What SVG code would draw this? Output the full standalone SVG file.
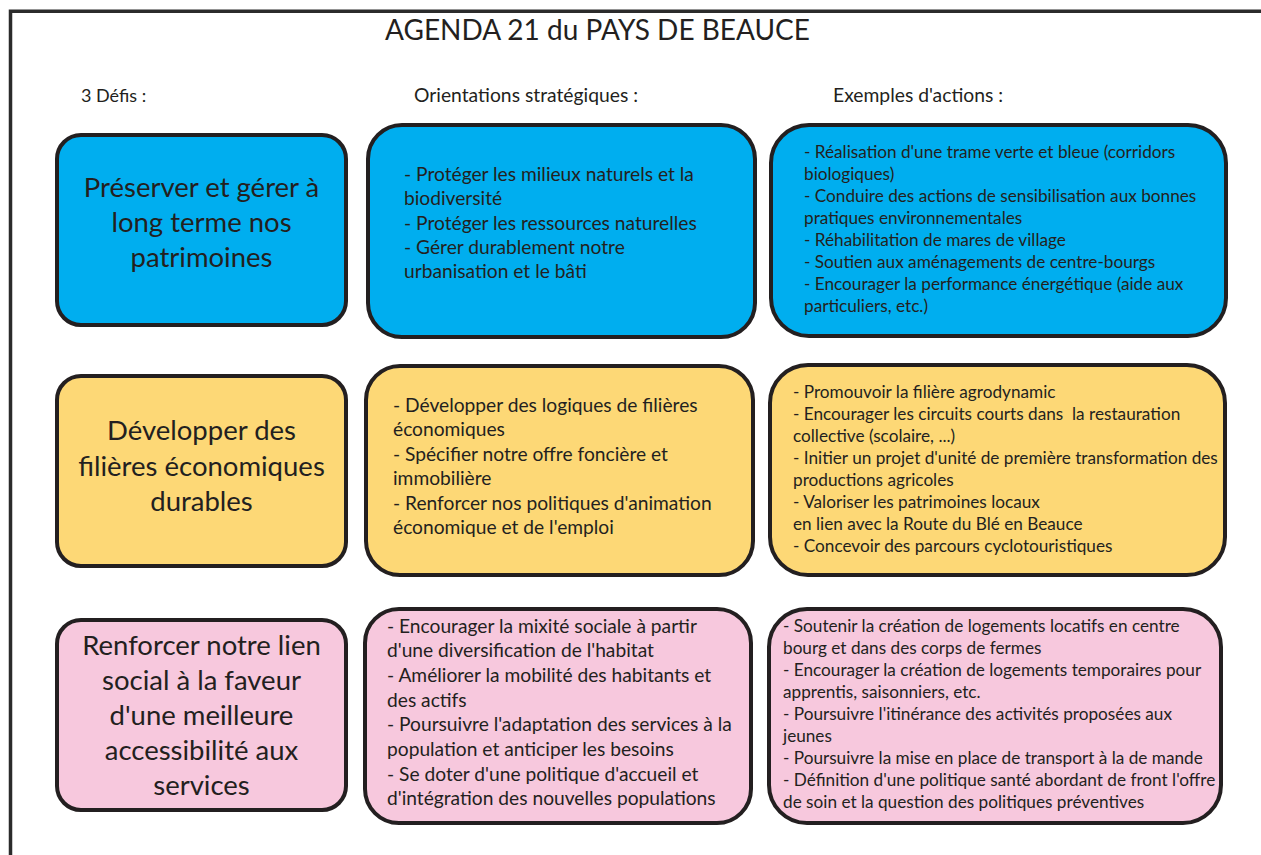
<svg xmlns="http://www.w3.org/2000/svg" width="1261" height="855" viewBox="0 0 1261 855">
<style>
text{font-family:Lato,"Liberation Sans",sans-serif;fill:#231F20}
.box{stroke:#231F20;stroke-width:4}
.blue{fill:#00AEEF}.yellow{fill:#FDD876}.pink{fill:#F7C8DD}
.big{font-size:27.5px;text-anchor:middle}
.mid{font-size:19.2px}
.sm{font-size:17.2px}
.hd{font-size:18px}
.hd2{font-size:19.3px}
</style>
<rect width="1261" height="855" fill="#fff"/>
<g id="frame" fill="none" stroke="#2b2b2b" stroke-width="3.5">
<path d="M10.5 855 V11.3 H1261"/>
</g>
<text x="385" y="40" style="font-size:28px">AGENDA 21 du PAYS DE BEAUCE</text>
<text class="hd" x="81" y="102">3 Défis :</text>
<text class="hd2" x="414" y="102">Orientations stratégiques :</text>
<text class="hd2" x="833" y="102">Exemples d'actions :</text>

<g id="defi1">
<rect class="box blue" x="57" y="135" width="289" height="190" rx="24"/>
<text class="big"><tspan x="201.5" y="197">Préserver et gérer à</tspan><tspan x="201.5" y="232">long terme nos</tspan><tspan x="201.5" y="267">patrimoines</tspan></text>
</g>
<g id="orient1">
<rect class="box blue" x="368" y="125" width="387" height="212" rx="34"/>
<text class="mid"><tspan x="404" y="181">- Protéger les milieux naturels et la</tspan><tspan x="404" y="205">biodiversité</tspan><tspan x="404" y="230">- Protéger les ressources naturelles</tspan><tspan x="404" y="254">- Gérer durablement notre</tspan><tspan x="404" y="278">urbanisation et le bâti</tspan></text>
</g>
<g id="actions1">
<rect class="box blue" x="771" y="125" width="455" height="211" rx="38"/>
<text class="sm"><tspan x="804" y="158">- Réalisation d'une trame verte et bleue (corridors</tspan><tspan x="804" y="180">biologiques)</tspan><tspan x="804" y="202">- Conduire des actions de sensibilisation aux bonnes</tspan><tspan x="804" y="224">pratiques environnementales</tspan><tspan x="804" y="246">- Réhabilitation de mares de village</tspan><tspan x="804" y="268">- Soutien aux aménagements de centre-bourgs</tspan><tspan x="804" y="290">- Encourager la performance énergétique (aide aux</tspan><tspan x="804" y="312">particuliers, etc.)</tspan></text>
</g>

<g id="defi2">
<rect class="box yellow" x="57" y="376" width="289" height="190" rx="24"/>
<text class="big"><tspan x="201.5" y="440">Développer des</tspan><tspan x="201.5" y="476">filières économiques</tspan><tspan x="201.5" y="511">durables</tspan></text>
</g>
<g id="orient2">
<rect class="box yellow" x="366" y="366" width="387" height="209" rx="34"/>
<text class="mid"><tspan x="393" y="412">- Développer des logiques de filières</tspan><tspan x="393" y="436">économiques</tspan><tspan x="393" y="461">- Spécifier notre offre foncière et</tspan><tspan x="393" y="485">immobilière</tspan><tspan x="393" y="510">- Renforcer nos politiques d'animation</tspan><tspan x="393" y="534">économique et de l'emploi</tspan></text>
</g>
<g id="actions2">
<rect class="box yellow" x="770" y="365" width="455" height="210" rx="38"/>
<text class="sm" xml:space="preserve"><tspan x="793" y="398">- Promouvoir la filière agrodynamic</tspan><tspan x="793" y="420">- Encourager les circuits courts dans  la restauration</tspan><tspan x="793" y="442">collective (scolaire, ...)</tspan><tspan x="793" y="464">- Initier un projet d'unité de première transformation des</tspan><tspan x="793" y="486">productions agricoles</tspan><tspan x="793" y="508">- Valoriser les patrimoines locaux</tspan><tspan x="793" y="530">en lien avec la Route du Blé en Beauce</tspan><tspan x="793" y="552">- Concevoir des parcours cyclotouristiques</tspan></text>
</g>

<g id="defi3">
<rect class="box pink" x="57" y="620" width="289" height="190" rx="24"/>
<text class="big"><tspan x="201.5" y="655">Renforcer notre lien</tspan><tspan x="201.5" y="690">social à la faveur</tspan><tspan x="201.5" y="725">d'une meilleure</tspan><tspan x="201.5" y="760">accessibilité aux</tspan><tspan x="201.5" y="795">services</tspan></text>
</g>
<g id="orient3">
<rect class="box pink" x="365" y="609" width="386" height="214" rx="34"/>
<text class="mid"><tspan x="387" y="633">- Encourager la mixité sociale à partir</tspan><tspan x="387" y="657">d'une diversification de l'habitat</tspan><tspan x="387" y="682">- Améliorer la mobilité des habitants et</tspan><tspan x="387" y="707">des actifs</tspan><tspan x="387" y="731">- Poursuivre l'adaptation des services à la</tspan><tspan x="387" y="756">population et anticiper les besoins</tspan><tspan x="387" y="781">- Se doter d'une politique d'accueil et</tspan><tspan x="387" y="805">d'intégration des nouvelles populations</tspan></text>
</g>
<g id="actions3">
<rect class="box pink" x="769" y="609" width="452" height="214" rx="38"/>
<text class="sm"><tspan x="783" y="632">- Soutenir la création de logements locatifs en centre</tspan><tspan x="783" y="654">bourg et dans des corps de fermes</tspan><tspan x="783" y="676">- Encourager la création de logements temporaires pour</tspan><tspan x="783" y="698">apprentis, saisonniers, etc.</tspan><tspan x="783" y="720">- Poursuivre l'itinérance des activités proposées aux</tspan><tspan x="783" y="742">jeunes</tspan><tspan x="783" y="764">- Poursuivre la mise en place de transport à la de mande</tspan><tspan x="783" y="786">- Définition d'une politique santé abordant de front l'offre</tspan><tspan x="783" y="808">de soin et la question des politiques préventives</tspan></text>
</g>
<g id="connectors"/>
</svg>
